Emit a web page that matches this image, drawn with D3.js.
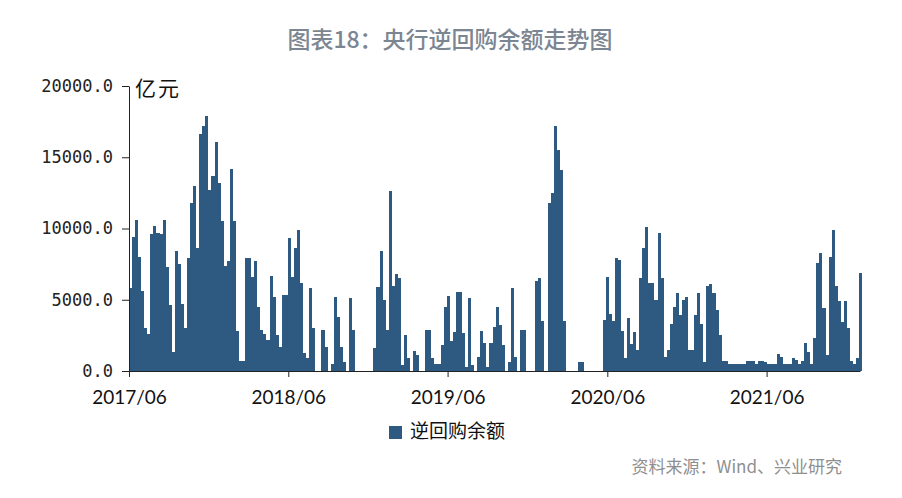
<!DOCTYPE html>
<html>
<head>
<meta charset="utf-8">
<script src="https://cdn.jsdelivr.net/npm/d3@7"></script>
<style>
  body { margin: 0; background: #ffffff; }
  svg { display: block; }
</style>
</head>
<body>
<svg id="chart" width="902" height="498"></svg>
<script>
// Weekly reverse-repo outstanding balance (亿元), first week starting 2017-06-01
const seriesStart = "2017-06-01";
const balance = [
  5850, 9400, 10600, 8000, 5600, 3000, 2600, 9600, 10200, 9700,
  9600, 10600, 7300, 4600, 1350, 8400, 7500, 4700, 3000, 7900,
  11800, 13000, 8600, 16600, 17200, 17900, 12700, 13700, 16100, 13200,
  10500, 7400, 7700, 14200, 10500, 2800, 700, 700, 7900, 7900,
  6600, 7700, 4500, 2900, 2600, 2200, 6700, 5200, 2500, 1700,
  5300, 5300, 9300, 6600, 8600, 9900, 6200, 1240, 900, 5800,
  3000, 0, 0, 2900, 1700, 0, 500, 5200, 3800, 1700,
  600, 0, 5100, 2900, 0, 0, 0, 0, 0, 0,
  1600, 5900, 8400, 5000, 2900, 12600, 6000, 6800, 6500, 400,
  2550, 900, 0, 1400, 1100, 0, 0, 2900, 2900, 900,
  470, 470, 1800, 4500, 5260, 2100, 2760, 5570, 5570, 2700,
  300, 5100, 400, 0, 1000, 2800, 2000, 300, 2000, 3100,
  4500, 3200, 1800, 0, 600, 5800, 1000, 0, 2900, 2900,
  0, 0, 0, 6300, 6500, 3500, 0, 11800, 12500, 17200,
  15500, 14100, 3500, 0, 0, 0, 0, 650, 650, 0,
  0, 0, 0, 0, 0, 3600, 6600, 4000, 3500, 7900,
  7800, 2800, 900, 3700, 1900, 2760, 1500, 6500, 8600, 10100,
  6200, 6150, 5000, 9700, 6500, 1000, 1500, 3300, 4500, 5450,
  3900, 5000, 5200, 1470, 1470, 3900, 5500, 3300, 600, 6000,
  6100, 5450, 4300, 2500, 700, 700, 470, 470, 470, 470,
  470, 500, 700, 700, 700, 500, 700, 700, 650, 470,
  470, 470, 1200, 1000, 470, 470, 470, 900, 800, 470,
  700, 2000, 1300, 470, 2350, 7550, 8300, 4400, 1120, 8000,
  9900, 6000, 4900, 3460, 4900, 3000, 700, 470, 940, 6900
];

const yTicks = [0, 5000, 10000, 15000, 20000];
const xTickLabels = ["2017/06", "2018/06", "2019/06", "2020/06", "2021/06"];
const seriesName = "逆回购余额";
const unitLabel = "亿元";
const titleText = "图表18：央行逆回购余额走势图";
const sourceText = "资料来源：Wind、兴业研究";

const parseDay = d3.timeParse("%Y-%m-%d");
const parseMonth = d3.timeParse("%Y/%m");
const start = parseDay(seriesStart);
const weeks = balance.map((v, i) => ({
  from: d3.timeDay.offset(start, 7 * i),
  to: d3.timeDay.offset(start, 7 * (i + 1)),
  value: v
}));

const svg = d3.select("#chart");
const barColor = "#2e5a81";
const axisColor = "#222";

const x = d3.scaleTime()
  .domain([parseDay("2017-06-01"), parseDay("2022-01-01")])
  .range([129, 860]);
const y = d3.scaleLinear().domain([0, 20000]).range([371, 86]);

// Title
svg.append("text")
  .attr("x", 450).attr("y", 48)
  .attr("text-anchor", "middle")
  .attr("font-family", "'Noto Sans CJK SC', sans-serif")
  .attr("font-size", 23)
  .attr("font-weight", 500)
  .attr("fill", "#7b8692")
  .text(titleText);

// Bars: snapped to whole pixels so neighbouring weeks join without seams
svg.append("g")
  .attr("shape-rendering", "crispEdges")
  .selectAll("rect")
  .data(weeks.filter(d => d.value > 0))
  .join("rect")
  .attr("x", d => Math.round(x(d.from)))
  .attr("width", d => Math.round(x(d.to)) - Math.round(x(d.from)))
  .attr("y", d => Math.round(y(d.value)))
  .attr("height", d => Math.round(y(0)) - Math.round(y(d.value)))
  .attr("fill", barColor);

// Y axis
const yAxis = svg.append("g")
  .attr("transform", "translate(129,0)")
  .call(d3.axisLeft(y)
    .tickValues(yTicks)
    .tickFormat(d3.format(".1f"))
    .tickSize(7)
    .tickSizeOuter(0)
    .tickPadding(9));
yAxis.select(".domain").attr("stroke", axisColor);
yAxis.selectAll(".tick line").attr("stroke", axisColor);
yAxis.selectAll(".tick text")
  .attr("font-family", "'DejaVu Sans Mono', monospace")
  .attr("font-size", 17)
  .attr("fill", "#222");

// X axis
const xAxis = svg.append("g")
  .attr("transform", "translate(0,371)")
  .call(d3.axisBottom(x)
    .tickValues(xTickLabels.map(parseMonth))
    .tickFormat(d3.timeFormat("%Y/%m"))
    .tickSize(6)
    .tickSizeOuter(0));
xAxis.select(".domain").attr("stroke", axisColor);
xAxis.selectAll(".tick line").attr("stroke", axisColor);
xAxis.selectAll(".tick text")
  .attr("y", 33).attr("dy", 0)
  .attr("font-family", "Lato, sans-serif")
  .attr("font-size", 19)
  .attr("fill", "#111");

// Unit label
svg.append("text")
  .attr("x", 135).attr("y", 96)
  .attr("font-family", "'Noto Sans CJK SC', sans-serif")
  .attr("font-size", 21)
  .attr("letter-spacing", 2)
  .attr("fill", "#111")
  .text(unitLabel);

// Legend
const legend = svg.append("g").attr("transform", "translate(389,426)");
legend.append("rect").attr("width", 13).attr("height", 13).attr("fill", barColor);
legend.append("text")
  .attr("x", 21).attr("y", 12)
  .attr("font-family", "'Noto Sans CJK SC', sans-serif")
  .attr("font-size", 19)
  .attr("fill", "#111")
  .text(seriesName);

// Source note
svg.append("text")
  .attr("x", 842).attr("y", 473)
  .attr("text-anchor", "end")
  .attr("font-family", "'Noto Sans CJK SC', sans-serif")
  .attr("font-size", 17)
  .attr("fill", "#8f8f8f")
  .text(sourceText);
</script>
</body>
</html>
